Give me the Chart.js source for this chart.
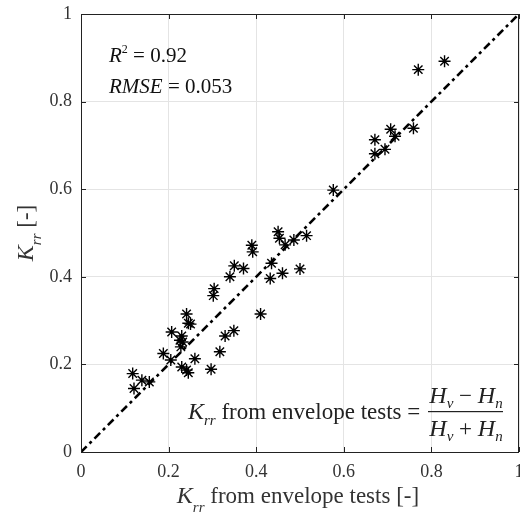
<!DOCTYPE html>
<html>
<head>
<meta charset="utf-8">
<script src="https://cdn.jsdelivr.net/npm/chart.js@4/dist/chart.umd.min.js"></script>
<style>
  html, body { margin: 0; padding: 0; background: #fff; }
  #grafico { display: block; }
</style>
</head>
<body>
<canvas id="grafico" width="520" height="523"></canvas>
<script>
// K_rr from envelope tests (x) vs predicted K_rr (y)
let envX = [0.770, 0.830, 0.759, 0.707, 0.717, 0.671, 0.694, 0.671, 0.576,
  0.450, 0.453, 0.466, 0.486, 0.515, 0.390, 0.392, 0.350, 0.371, 0.340,
  0.435, 0.432, 0.460, 0.500, 0.304, 0.302, 0.410,
  0.241, 0.245, 0.250, 0.207, 0.230, 0.226, 0.232, 0.228, 0.188, 0.205,
  0.260, 0.230, 0.241, 0.245, 0.297, 0.317, 0.329, 0.349,
  0.118, 0.139, 0.156, 0.121];
let predY = [0.873, 0.892, 0.739, 0.737, 0.721, 0.713, 0.691, 0.681, 0.598,
  0.503, 0.488, 0.473, 0.484, 0.494, 0.472, 0.457, 0.425, 0.419, 0.400,
  0.431, 0.396, 0.408, 0.418, 0.373, 0.357, 0.315,
  0.315, 0.294, 0.292, 0.274, 0.265, 0.255, 0.251, 0.240, 0.225, 0.210,
  0.213, 0.194, 0.187, 0.181, 0.189, 0.229, 0.265, 0.277,
  0.179, 0.164, 0.160, 0.145];
let lineX = [0, 1];
let ticks = [0, 0.2, 0.4, 0.6, 0.8, 1];
let tickText = ['0', '0.2', '0.4', '0.6', '0.8', '1'];

let serif = '"Liberation Serif", "DejaVu Serif", serif';

// draw a run of text pieces with their own font and baseline shift
function rich(c, parts, x, y, align) {
  let w = 0;
  parts.forEach(p => { c.font = p.f; w += c.measureText(p.t).width; });
  let cx = align === 'center' ? x - w / 2 : (align === 'right' ? x - w : x);
  parts.forEach(p => {
    c.font = p.f;
    c.fillText(p.t, cx, y + (p.dy || 0));
    cx += c.measureText(p.t).width;
  });
  return w;
}

const labels = {
  id: 'labels',
  afterDraw(chart) {
    let c = chart.ctx, a = chart.chartArea;
    c.save();
    // box round the plot
    c.strokeStyle = '#222';
    c.lineWidth = 1;
    c.strokeRect(a.left + 0.5, a.top + 0.5, a.right - a.left - 1, a.bottom - a.top);

    // inward tick marks
    let xs = chart.scales.x, ys = chart.scales.y;
    c.beginPath();
    ticks.forEach(t => {
      let px = Math.round(xs.getPixelForValue(t)) + 0.5;
      c.moveTo(px, a.bottom); c.lineTo(px, a.bottom - 5);
      c.moveTo(px, a.top); c.lineTo(px, a.top + 5);
      let py = Math.round(ys.getPixelForValue(t)) + 0.5;
      c.moveTo(a.left, py); c.lineTo(a.left + 5, py);
      c.moveTo(a.right, py); c.lineTo(a.right - 5, py);
    });
    c.stroke();

    c.fillStyle = '#333';
    c.textBaseline = 'alphabetic';
    let itK = 'italic 24px ' + serif, sub = 'italic 15px ' + serif, up = '23px ' + serif;

    // x axis title
    rich(c, [{t: 'K', f: itK}, {t: 'rr', f: sub, dy: 9}, {t: ' from envelope tests [-]', f: up}],
      298, 503, 'center');

    // y axis title
    c.save();
    c.translate(33, 233);
    c.rotate(-Math.PI / 2);
    rich(c, [{t: 'K', f: itK}, {t: 'rr', f: sub, dy: 8}, {t: ' [-]', f: up}], 0, 0, 'center');
    c.restore();

    // fit statistics
    c.fillStyle = '#111';
    let it20 = 'italic 21px ' + serif, n20 = '21px ' + serif;
    rich(c, [{t: 'R', f: it20}, {t: '2', f: '12px ' + serif, dy: -9}, {t: ' = 0.92', f: n20}], 109, 62, 'left');
    rich(c, [{t: 'RMSE', f: it20}, {t: ' = 0.053', f: n20}], 109, 93, 'left');

    // definition of K_rr
    c.fillStyle = '#222';
    rich(c, [{t: 'K', f: itK}, {t: 'rr', f: sub, dy: 6}, {t: ' from envelope tests = ', f: up}], 426, 419, 'right');
    let fx = 466;
    rich(c, [{t: 'H', f: itK}, {t: 'v', f: sub, dy: 5}, {t: ' \u2212 ', f: up}, {t: 'H', f: itK}, {t: 'n', f: sub, dy: 5}],
      fx, 403, 'center');
    rich(c, [{t: 'H', f: itK}, {t: 'v', f: sub, dy: 5}, {t: ' + ', f: up}, {t: 'H', f: itK}, {t: 'n', f: sub, dy: 5}],
      fx, 436, 'center');
    c.fillRect(428, 411, 75, 1.2);
    c.restore();
  }
};

let ctx = document.getElementById('grafico');
let chart = new Chart(ctx, {
  type: 'scatter',
  data: {
    datasets: [
      {
        data: envX.map((x, i) => ({ x: x, y: predY[i] })),
        pointStyle: 'star',
        pointRadius: 6,
        borderColor: '#000',
        backgroundColor: '#000',
        borderWidth: 1.4,
        order: 1
      },
      {
        type: 'line',
        data: lineX.map(v => ({ x: v, y: v })),
        borderColor: '#000',
        borderWidth: 2.6,
        borderDash: [8, 4, 3, 4],
        pointRadius: 0,
        order: 2
      }
    ]
  },
  options: {
    responsive: false,
    animation: false,
    layout: { autoPadding: false, padding: { top: 14, right: 1, left: 0, bottom: 0 } },
    plugins: { legend: { display: false }, tooltip: { enabled: false } },
    scales: {
      x: {
        type: 'linear', min: 0, max: 1,
        afterBuildTicks: s => { s.ticks = ticks.map(v => ({ value: v })); },
        afterFit: s => { s.height = 71; s.paddingLeft = 0; s.paddingRight = 0; },
        grid: { color: '#e4e4e4', drawTicks: false },
        border: { display: false },
        ticks: { color: '#333', padding: 9, font: { family: serif, size: 18 }, maxRotation: 0,
          callback: (v, i) => tickText[i] }
      },
      y: {
        type: 'linear', min: 0, max: 1,
        afterBuildTicks: s => { s.ticks = ticks.map(v => ({ value: v })); },
        afterFit: s => { s.width = 81; s.paddingTop = 0; s.paddingBottom = 0; },
        grid: { color: '#e4e4e4', drawTicks: false },
        border: { display: false },
        ticks: { color: '#333', padding: 9, font: { family: serif, size: 18 },
          callback: (v, i) => tickText[i] }
      }
    }
  },
  plugins: [labels]
});
</script>
</body>
</html>
